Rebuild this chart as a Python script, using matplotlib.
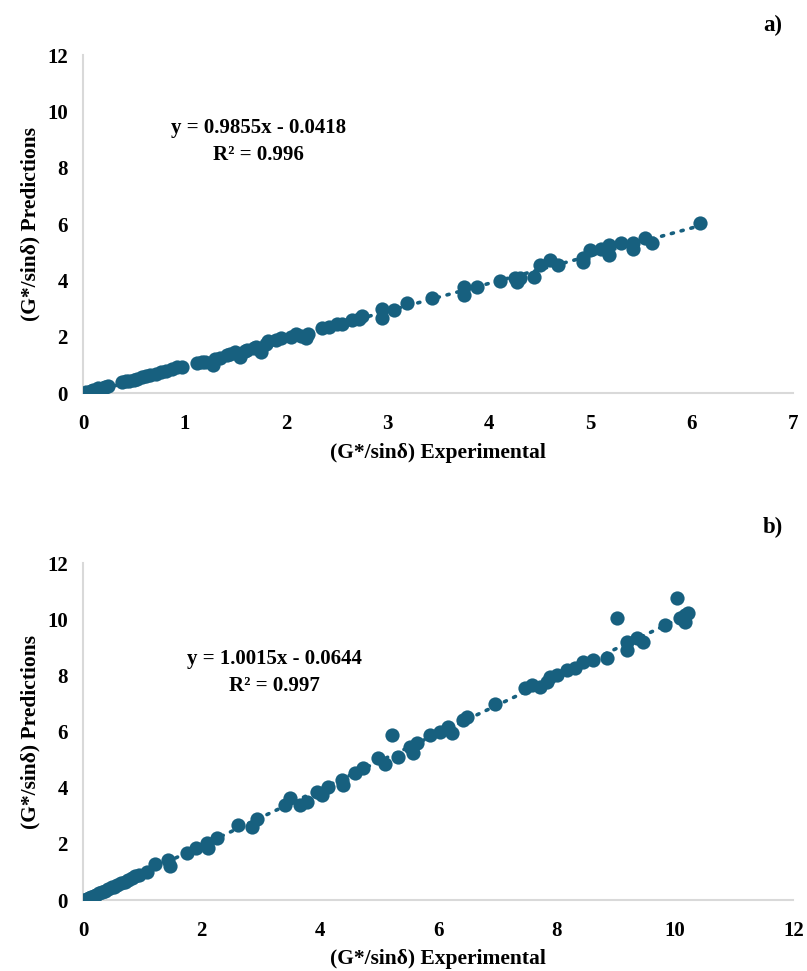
import numpy as np
import matplotlib
matplotlib.use("Agg")
import matplotlib.pyplot as plt

plt.rcParams['font.family'] = ['Liberation Serif', 'DejaVu Serif']
plt.rcParams['font.weight'] = 'bold'

# panel a) data: experimental vs predicted G*/sin(delta)
exp_a = [0.03, 0.08, 0.10, 0.13, 0.15, 0.18, 0.20, 0.22, 0.25,
         0.38, 0.42, 0.45, 0.50, 0.53, 0.58, 0.62, 0.66, 0.72, 0.77, 0.82, 0.88, 0.93, 0.97,
         1.12, 1.17, 1.20, 1.28, 1.30, 1.35, 1.42, 1.45, 1.50, 1.55, 1.60, 1.62, 1.68, 1.70,
         1.75, 1.80, 1.82, 1.90, 1.95, 2.05, 2.10, 2.15, 2.20, 2.22,
         2.35, 2.42, 2.50, 2.55, 2.65, 2.72, 2.75,
         2.95, 2.95, 3.06, 3.19, 3.44, 3.75, 3.75, 3.88, 4.11, 4.26, 4.28,
         4.31, 4.44, 4.50, 4.60, 4.68, 4.93, 4.93, 5.00, 5.10, 5.18, 5.18,
         5.30, 5.42, 5.42, 5.54, 5.61, 6.08]
pred_a = [0.03, 0.08, 0.12, 0.12, 0.17, 0.16, 0.20, 0.21, 0.24,
          0.40, 0.42, 0.44, 0.48, 0.52, 0.56, 0.62, 0.65, 0.70, 0.76, 0.78, 0.86, 0.92, 0.95,
          1.08, 1.10, 1.12, 1.00, 1.20, 1.25, 1.35, 1.40, 1.45, 1.30, 1.50, 1.55, 1.60, 1.65,
          1.45, 1.75, 1.85, 1.90, 1.95, 2.00, 2.10, 2.05, 1.95, 2.10,
          2.30, 2.35, 2.45, 2.45, 2.60, 2.65, 2.75,
          3.00, 2.66, 2.94, 3.19, 3.40, 3.76, 3.48, 3.76, 4.00, 4.10, 3.94,
          4.08, 4.12, 4.54, 4.72, 4.54, 4.82, 4.65, 5.07, 5.14, 5.25, 4.90,
          5.32, 5.32, 5.14, 5.50, 5.32, 6.03]

# panel b)
exp_b = [0.02, 0.06, 0.10, 0.14, 0.18, 0.22, 0.27, 0.32, 0.37, 0.42, 0.48, 0.53, 0.58,
         0.64, 0.70, 0.76, 0.82, 0.88, 0.95,
         1.08, 1.22, 1.44, 1.47, 1.76, 1.90, 2.10, 2.11, 2.26, 2.62, 2.85, 2.94,
         3.41, 3.50, 3.67, 3.78, 3.95, 4.04, 4.14, 4.37, 4.39, 4.59, 4.73,
         4.98, 5.10, 5.22, 5.32, 5.52, 5.57, 5.64, 5.86, 6.03, 6.17, 6.23, 6.42, 6.49,
         6.96, 7.47, 7.58, 7.72, 7.84, 7.89, 8.00, 8.18, 8.31, 8.45, 8.61, 8.85,
         9.02, 9.19, 9.19, 9.36, 9.46, 9.83, 10.03, 10.08, 10.17, 10.22, 10.17]
pred_b = [0.00, 0.03, 0.07, 0.11, 0.14, 0.18, 0.24, 0.28, 0.33, 0.39, 0.45, 0.48, 0.55,
          0.60, 0.66, 0.73, 0.78, 0.85, 0.90,
          1.00, 1.30, 1.42, 1.20, 1.67, 1.85, 2.03, 1.85, 2.20, 2.67, 2.60, 2.90,
          3.38, 3.63, 3.38, 3.50, 3.84, 3.74, 4.02, 4.27, 4.10, 4.52, 4.70,
          5.05, 4.85, 5.87, 5.09, 5.45, 5.23, 5.59, 5.87, 5.98, 6.16, 5.94, 6.40, 6.51,
          7.00, 7.54, 7.65, 7.58, 7.76, 7.94, 8.00, 8.19, 8.26, 8.47, 8.54, 8.62,
          10.04, 9.18, 8.90, 9.32, 9.18, 9.79, 10.75, 10.04, 10.14, 10.21, 9.90]

fit_a = (0.9855, -0.0418, 0.996)
fit_b = (1.0015, -0.0644, 0.997)

color = '#17607f'
fig = plt.figure(figsize=(8.07, 9.71), dpi=100)

panels = [
    ([0.103, 0.595, 0.880, 0.348], exp_a, pred_a, fit_a, 7, (1.73, 8.95), 'a)', 0.974, -0.148),
    ([0.103, 0.073, 0.880, 0.347], exp_b, pred_b, fit_b, 12, (3.24, 8.1), 'b)', 0.457, -0.145),
]

for rect, xs, ys, fit, xmax, txt_pos, tag, tag_y, xlab_y in panels:
    ax = fig.add_axes(rect)
    ax.scatter(xs, ys, s=105, color=color, zorder=3, linewidths=0)
    xl = np.array([min(xs), max(xs)])
    ax.plot(xl, fit[0] * xl + fit[1], color=color, lw=2.6,
            linestyle=(0, (0.6, 2.2)), dash_capstyle='round', zorder=2)
    ax.set_xlim(0, xmax)
    ax.set_ylim(0, 12)
    ax.set_xticks(range(0, xmax + 1, 1 if xmax < 10 else 2))
    ax.set_yticks(range(0, 13, 2))
    for s in ['top', 'right']:
        ax.spines[s].set_visible(False)
    for s in ['left', 'bottom']:
        ax.spines[s].set_color('#d9d9d9')
        ax.spines[s].set_linewidth(1.5)
    ax.tick_params(length=0, labelsize=15)
    ax.tick_params(axis='x', pad=15)
    ax.tick_params(axis='y', pad=11)
    ax.set_xlabel('(G*/sinδ) Experimental', fontsize=15.5, fontweight='bold')
    ax.set_ylabel('(G*/sinδ) Predictions', fontsize=15.5, fontweight='bold')
    ax.xaxis.set_label_coords(0.5, xlab_y)
    ax.yaxis.set_label_coords(-0.06, 0.5)
    sign = '-' if fit[1] < 0 else '+'
    ax.text(txt_pos[0], txt_pos[1],
            'y = %.4fx %s %.4f\nR² = %.3f' % (fit[0], sign, abs(fit[1]), fit[2]),
            ha='center', va='center', fontsize=15, fontweight='bold',
            linespacing=1.45)
    fig.text(0.958, tag_y, tag, ha='center', va='center', fontsize=16.5, fontweight='bold')

fig.savefig('out.png', dpi=100)
